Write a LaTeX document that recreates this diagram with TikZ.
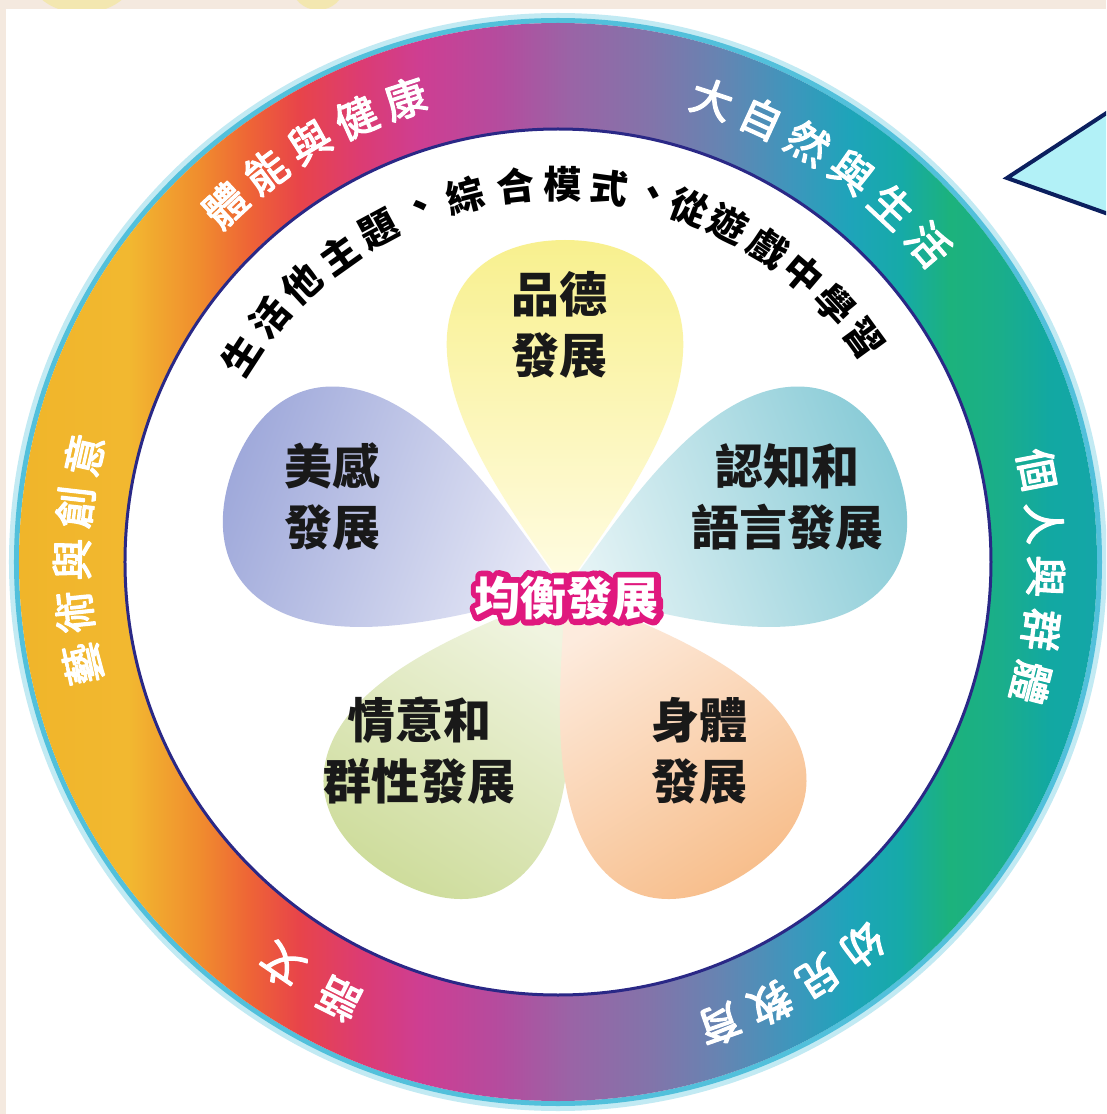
\documentclass[tikz,border=0pt]{standalone}
\usepackage{fontspec}
\newfontfamily\cjk{Noto Sans CJK TC}
\newfontfamily\cjkmed[FakeBold=3]{Noto Sans CJK TC}
\newfontfamily\cjkfb[UprightFeatures={FakeBold=26}, BoldFeatures={FakeBold=26}]{Noto Sans CJK TC}
\usetikzlibrary{calc}
\definecolor{bgbeige}{HTML}{F4E9DF}
\definecolor{stripyel}{HTML}{F3E7B0}
\definecolor{rimhalo}{HTML}{C2EAF3}
\definecolor{rimcyan}{HTML}{52C0DB}
\definecolor{navyline}{HTML}{2A2886}
\definecolor{trifill}{HTML}{B2F1F7}
\definecolor{tristroke}{HTML}{0B1F5E}
\definecolor{petYel}{HTML}{F8F08E}
\definecolor{petYelC}{HTML}{FFFCE4}
\definecolor{petBlu}{HTML}{86CAD6}
\definecolor{petBluC}{HTML}{E4F3F5}
\definecolor{petLav}{HTML}{9EA8DA}
\definecolor{petLavC}{HTML}{E6E8F6}
\definecolor{petGrn}{HTML}{CCDB98}
\definecolor{petGrnC}{HTML}{F0F4E0}
\definecolor{petPch}{HTML}{F7BC88}
\definecolor{petPchC}{HTML}{FDEBDD}
\definecolor{balmag}{HTML}{E0187E}
\definecolor{rs01}{HTML}{F0B52A}
\definecolor{rs02}{HTML}{F2B830}
\definecolor{rs03}{HTML}{F08C2E}
\definecolor{rs04}{HTML}{EE6436}
\definecolor{rs05}{HTML}{E8444A}
\definecolor{rs06}{HTML}{DC3C72}
\definecolor{rs07}{HTML}{CE3E92}
\definecolor{rs08}{HTML}{B44C9E}
\definecolor{rs09}{HTML}{9A64A6}
\definecolor{rs10}{HTML}{8274AA}
\definecolor{rs11}{HTML}{6684B2}
\definecolor{rs12}{HTML}{3E96BC}
\definecolor{rs13}{HTML}{1EA4BA}
\definecolor{rs14}{HTML}{16AAA8}
\definecolor{rs15}{HTML}{1CB27C}
\definecolor{rs16}{HTML}{1AAE8A}
\definecolor{rs17}{HTML}{12A8A2}
\definecolor{rs18}{HTML}{14A6A8}
\pgfdeclarehorizontalshading{ringshade}{100bp}{color(0bp)=(rs01); color(25bp)=(rs01); color(30.1bp)=(rs02); color(33.4bp)=(rs03); color(35.7bp)=(rs04); color(38bp)=(rs05); color(40.8bp)=(rs06); color(43.6bp)=(rs07); color(47.3bp)=(rs08); color(50.6bp)=(rs09); color(54.3bp)=(rs10); color(57.5bp)=(rs11); color(60.8bp)=(rs12); color(63.5bp)=(rs13); color(65.9bp)=(rs14); color(68.2bp)=(rs15); color(70.5bp)=(rs16); color(72.8bp)=(rs17); color(75bp)=(rs18); color(100bp)=(rs18)}
\newcommand\petal[5]{%
  \begin{scope}[shift={(7,-28)},rotate=#1,xscale=#2]
    \shade[top color=#3, bottom color=#4, shading angle=#5]
      (0,0) .. controls (60,-38) and (165,-124) .. (255,-118)
      .. controls (322,-113) and (350,-60) .. (350,0)
      .. controls (350,60) and (322,113) .. (255,118)
      .. controls (165,124) and (60,38) .. (0,0) -- cycle;
  \end{scope}}
\tikzset{
  ringtxt/.style={text=white, inner sep=0pt, line join=round, font=\cjkmed\fontsize{42}{42}\selectfont},
  arctxt/.style={text=black, inner sep=0pt, font=\cjk\bfseries\fontsize{38}{38}\selectfont},
  petaltxt/.style={text=black!90, inner sep=0pt, align=center, font=\cjk\bfseries\fontsize{48}{61}\selectfont},
  balout/.style={text=balmag, inner sep=0pt, line join=round, font=\cjkfb\bfseries\fontsize{46}{46}\selectfont},
  balin/.style={text=white, inner sep=0pt, font=\cjk\bfseries\fontsize{46}{46}\selectfont}
}
\begin{document}
\begin{tikzpicture}[x=1pt,y=1pt]
\useasboundingbox (-558,-552) rectangle (548,562);
\clip (-558,-552) rectangle (548,562);
% background
\fill[bgbeige] (-558,-552) rectangle (548,562);
\fill[stripyel] (-476,586) ellipse (52 and 37);
\fill[stripyel] (-240,576) ellipse (26 and 24);
\fill[white] (-552,-552) rectangle (548,553);
% ring
\draw[rimhalo, line width=6] (0,0) circle (546);
\draw[rimcyan, line width=5] (0,0) circle (541.5);
\shade[shading=ringshade, even odd rule] (0,0) circle (539) (0,0) circle (433);
\draw[navyline, line width=3] (0,0) circle (433);
% petals
\petal{90}{1.0}{petYel}{petYelC}{0}
\petal{20}{1.01}{petBlu}{petBluC}{-70}
\petal{160}{1.01}{petLav}{petLavC}{70}
\petal{238}{0.96}{petGrn}{petGrnC}{148}
\petal{302}{0.96}{petPch}{petPchC}{212}
% petal texts
\node[petaltxt] (moral) at (2,237) {品德\\發展};
\node[petaltxt] (cogn) at (229,65) {認知和\\語言發展};
\node[petaltxt] (aest) at (-225,65) {美感\\發展};
\node[petaltxt] (affect) at (-138,-189) {情意和\\群性發展};
\node[petaltxt] (phys) at (142,-189) {身體\\發展};
% centre label
\node[balout] (balo) at (9,-36) {均衡發展};
\node[balin] (balance) at (9,-36) {均衡發展};
% ring texts
\foreach \ch/\a [count=\i] in {體/133.0,能/126.8,與/120.6,健/114.4,康/108.2} {
  \pgfmathsetmacro\rot{\a-90}
  \node[ringtxt, rotate=\rot] (ra\i) at (\a:488) {\ch};
}
\foreach \ch/\a [count=\i] in {大/71.6,自/65.4,然/59.2,與/53.0,生/46.8,活/40.6} {
  \pgfmathsetmacro\rot{\a-90}
  \node[ringtxt, rotate=\rot] (rb\i) at (\a:488) {\ch};
}
\foreach \ch/\a [count=\i] in {個/10.9,人/4.6,與/-1.7,群/-8.0,體/-14.3} {
  \pgfmathsetmacro\rot{\a-90}
  \node[ringtxt, rotate=\rot] (rc\i) at (\a:488) {\ch};
}
\foreach \ch/\a [count=\i] in {幼/-51.5,兒/-57.9,教/-64.3,育/-70.7} {
  \pgfmathsetmacro\rot{\a-90}
  \node[ringtxt, rotate=\rot] (rd\i) at (\a:490) {\ch};
}
\foreach \ch/\a [count=\i] in {語/243.4,文/235.6} {
  \pgfmathsetmacro\rot{\a-90}
  \node[ringtxt, rotate=\rot] (re\i) at (\a:489) {\ch};
}
\foreach \ch/\a [count=\i] in {藝/192.1,術/185.9,與/179.7,創/173.5,意/167.3} {
  \pgfmathsetmacro\rot{\a-90}
  \node[ringtxt, rotate=\rot] (rf\i) at (\a:486) {\ch};
}
% inner arc text
\foreach \ch/\a [count=\i] in {生/146.9,活/139.8,他/132.6,主/125.4,題/118.3,、/111.2,綜/104.2,合/96.4,模/89.3,式/82.2,、/75.5,從/69.6,遊/63.2,戲/56.2,中/49.6,學/42.9,習/36.1} {
  \pgfmathsetmacro\rot{\a-90}
  \node[arctxt, rotate=\rot] (ia\i) at (\a:378) {\ch};
}
% pointer triangle
\draw[tristroke, fill=trifill, line width=4, line join=miter] (449,384) -- (570,463) -- (570,341) -- cycle;
\end{tikzpicture}
\end{document}
